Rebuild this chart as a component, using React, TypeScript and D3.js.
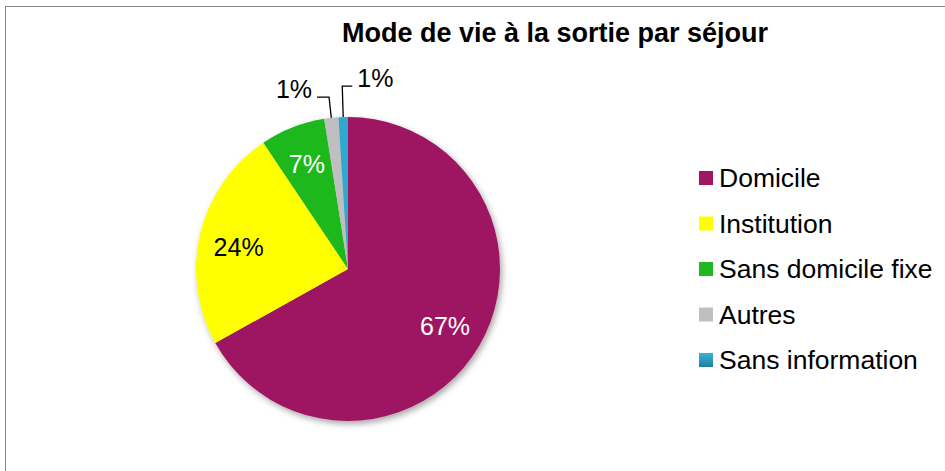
import { useEffect, useRef } from 'react';
import * as d3 from 'd3';

const categories = ['Domicile', 'Institution', 'Sans domicile fixe', 'Autres', 'Sans information'];
const values = [66.9, 23.7, 6.9, 1.5, 1.0];
const labels = ['67%', '24%', '7%', '1%', '1%'];
const colors = ['#9E1862', '#FFFF00', '#1FB81F', '#BFBFBF', '#2FA9CF'];
const title = 'Mode de vie à la sortie par séjour';

const WIDTH = 945;
const HEIGHT = 471;

export default function App() {
  const ref = useRef<SVGSVGElement>(null);

  useEffect(() => {
    const svg = d3.select(ref.current);
    svg.selectAll('*').remove();

    const cx = 348;
    const cy = 269;
    const radius = 152;
    const font = 'Arial, "Liberation Sans", sans-serif';

    const defs = svg.append('defs');
    const shadow = defs
      .append('filter')
      .attr('id', 'pieShadow')
      .attr('x', '-20%')
      .attr('y', '-20%')
      .attr('width', '140%')
      .attr('height', '140%');
    shadow
      .append('feDropShadow')
      .attr('dx', 2)
      .attr('dy', 3)
      .attr('stdDeviation', 3)
      .attr('flood-color', '#000')
      .attr('flood-opacity', 0.35);

    const grad = defs
      .append('linearGradient')
      .attr('id', 'blueGrad')
      .attr('x1', 0)
      .attr('y1', 0)
      .attr('x2', 0)
      .attr('y2', 1);
    grad.append('stop').attr('offset', '0%').attr('stop-color', '#35B4DA');
    grad.append('stop').attr('offset', '100%').attr('stop-color', '#217E9C');

    // chart area border
    svg
      .append('rect')
      .attr('x', 5.5)
      .attr('y', 6.5)
      .attr('width', 980)
      .attr('height', 500)
      .attr('fill', 'white')
      .attr('stroke', '#868686')
      .attr('stroke-width', 1);

    svg
      .append('text')
      .attr('x', 555)
      .attr('y', 42)
      .attr('text-anchor', 'middle')
      .style('font-family', font)
      .style('font-size', '27px')
      .style('font-weight', 'bold')
      .text(title);

    const data = categories.map((c, i) => ({ label: c, value: values[i], text: labels[i], color: colors[i] }));

    const pie = d3
      .pie<any>()
      .sort(null)
      .value((d) => d.value);
    const arcs = pie(data);
    const arc = d3.arc<any>().innerRadius(0).outerRadius(radius);

    const g = svg.append('g').attr('transform', `translate(${cx},${cy})`);

    g.append('g')
      .attr('filter', 'url(#pieShadow)')
      .selectAll('path')
      .data(arcs)
      .join('path')
      .attr('d', arc)
      .attr('fill', (d) => d.data.color);

    // inside labels
    const labelArc = d3
      .arc<any>()
      .innerRadius(radius * 0.74)
      .outerRadius(radius * 0.74);
    g.selectAll('text.inside')
      .data(arcs.slice(0, 3))
      .join('text')
      .attr('class', 'inside')
      .attr('transform', (d) => `translate(${labelArc.centroid(d)})`)
      .attr('text-anchor', 'middle')
      .attr('dy', (d) => (d.data.label === 'Institution' ? '0.55em' : '0.35em'))
      .style('font-family', font)
      .style('font-size', '25px')
      .attr('fill', (d) => (d.data.label === 'Institution' ? '#000' : '#fff'))
      .text((d) => d.data.text);

    // outside labels with leader lines
    const outside = [
      { idx: 3, ext: 21, hx: -12, side: -1, tdx: -5, tdy: 0 },
      { idx: 4, ext: 31, hx: 10, side: 1, tdx: 5, tdy: 0 },
    ];
    outside.forEach((o) => {
      const d = arcs[o.idx];
      const mid = (d.startAngle + d.endAngle) / 2;
      const p0 = [radius * Math.sin(mid), -radius * Math.cos(mid)];
      const p1 = [(radius + o.ext) * Math.sin(mid), -(radius + o.ext) * Math.cos(mid)];
      const p2 = [p1[0] + o.hx, p1[1]];
      g.append('path')
        .attr('d', d3.line()([p0 as [number, number], p1 as [number, number], p2 as [number, number]]))
        .attr('fill', 'none')
        .attr('stroke', '#000')
        .attr('stroke-width', 1.3);
      g.append('text')
        .attr('x', p2[0] + o.tdx)
        .attr('y', p2[1] - 8 + o.tdy)
        .attr('text-anchor', o.side < 0 ? 'end' : 'start')
        .attr('dy', '0.35em')
        .style('font-family', font)
        .style('font-size', '25px')
        .attr('fill', '#000')
        .text(d.data.text);
    });

    // legend
    const legend = svg.append('g').attr('transform', 'translate(699, 178)');
    const item = legend
      .selectAll('g')
      .data(data)
      .join('g')
      .attr('transform', (_, i) => `translate(0, ${i * 45.5})`);
    item
      .append('rect')
      .attr('x', 0)
      .attr('y', -7)
      .attr('width', 14)
      .attr('height', 14)
      .attr('fill', (d) => (d.label === 'Sans information' ? 'url(#blueGrad)' : d.color));
    item
      .append('text')
      .attr('x', 20)
      .attr('y', 9)
      .style('font-family', font)
      .style('font-size', '26.5px')
      .attr('fill', '#000')
      .text((d) => d.label);
  }, []);

  return (
    <svg
      ref={ref}
      width={WIDTH}
      height={HEIGHT}
      style={{ position: 'absolute', left: 0, top: 0, display: 'block' }}
    />
  );
}
